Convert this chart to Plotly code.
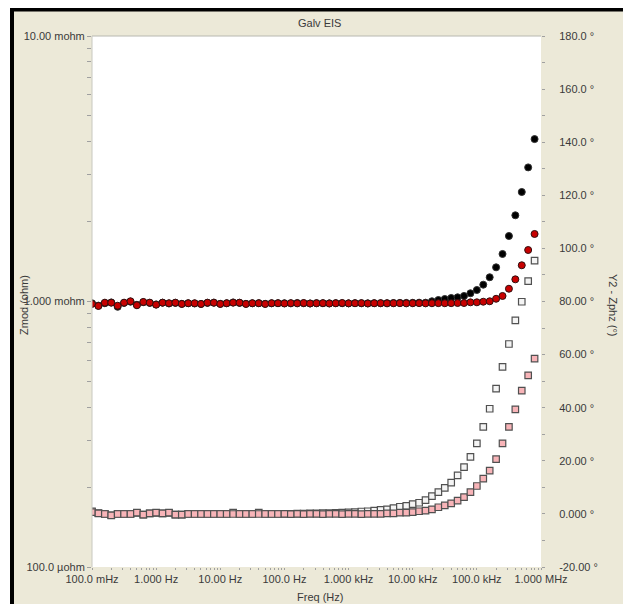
import plotly.graph_objects as go

# Frequencies (Hz), 10 points per decade
freq = [0.1, 0.1259, 0.1585, 0.1995, 0.2512, 0.3162, 0.3981, 0.5012, 0.6310, 0.7943,
        1.0, 1.259, 1.585, 1.995, 2.512, 3.162, 3.981, 5.012, 6.310, 7.943,
        10.0, 12.59, 15.85, 19.95, 25.12, 31.62, 39.81, 50.12, 63.10, 79.43,
        100.0, 125.9, 158.5, 199.5, 251.2, 316.2, 398.1, 501.2, 631.0, 794.3,
        1000.0, 1259.0, 1585.0, 1995.0, 2512.0, 3162.0, 3981.0, 5012.0, 6310.0, 7943.0,
        1.0e4, 1.259e4, 1.585e4, 1.995e4, 2.512e4, 3.162e4, 3.981e4, 5.012e4, 6.310e4, 7.943e4,
        1.0e5, 1.259e5, 1.585e5, 1.995e5, 2.512e5, 3.162e5, 3.981e5, 5.012e5, 6.310e5, 7.943e5]

# Zmod (mohm) - black series
zmod_black = [0.985, 0.965, 0.985, 0.992, 0.955, 0.988, 0.998, 0.972, 0.994, 0.988,
              0.975, 0.990, 0.983, 0.988, 0.980, 0.985, 0.983, 0.979, 0.988, 0.990,
              0.980, 0.985, 0.992, 0.988, 0.980, 0.985, 0.986, 0.980, 0.985, 0.986,
              0.985, 0.984, 0.987, 0.985, 0.983, 0.986, 0.985, 0.984, 0.986, 0.985,
              0.984, 0.986, 0.985, 0.984, 0.986, 0.985, 0.986, 0.987, 0.988, 0.988,
              0.989, 0.990, 0.990, 1.002, 1.013, 1.022, 1.031, 1.037, 1.049, 1.074,
              1.105, 1.157, 1.234, 1.345, 1.510, 1.765, 2.112, 2.585, 3.200, 4.090]

# Zmod (mohm) - red series
zmod_red = [0.979, 0.962, 0.990, 0.990, 0.964, 0.990, 1.002, 0.968, 0.996, 0.990,
            0.973, 0.990, 0.985, 0.990, 0.979, 0.985, 0.985, 0.979, 0.990, 0.990,
            0.979, 0.985, 0.990, 0.990, 0.979, 0.985, 0.985, 0.979, 0.985, 0.985,
            0.983, 0.986, 0.984, 0.987, 0.983, 0.985, 0.986, 0.983, 0.985, 0.987,
            0.984, 0.985, 0.986, 0.983, 0.985, 0.986, 0.984, 0.985, 0.986, 0.984,
            0.985, 0.986, 0.984, 0.985, 0.986, 0.985, 0.986, 0.987, 0.987, 0.993,
            0.993, 0.998, 1.002, 1.024, 1.049, 1.117, 1.212, 1.369, 1.563, 1.796]

# Phase (deg) - open gray squares
phase_black = [1.0, 0.3, 0.0, -0.5, 0.0, 0.0, 0.0, 0.4, -0.3, 0.2,
               0.4, 0.2, 0.4, -0.3, -0.3, 0.0, 0.0, 0.0, 0.0, 0.0,
               0.0, 0.0, 0.45, 0.0, 0.0, 0.0, 0.45, 0.0, 0.0, 0.0,
               0.0, 0.0, 0.1, 0.1, 0.2, 0.2, 0.3, 0.3, 0.4, 0.5,
               0.6, 0.7, 0.9, 1.0, 1.2, 1.5, 1.7, 2.2, 2.7, 3.0,
               3.7, 4.2, 5.2, 6.7, 8.2, 9.8, 11.8, 14.5, 17.6, 21.5,
               26.6, 32.8, 39.6, 47.2, 55.4, 64.0, 72.9, 79.9, 87.7, 95.4]

# Phase (deg) - pink squares
phase_pink = [0.7, 0.23, -0.04, -0.53, -0.04, -0.04, -0.04, 0.45, -0.3, 0.23,
              0.45, 0.23, 0.45, -0.3, -0.3, -0.04, -0.04, -0.04, -0.04, -0.04,
              -0.04, -0.04, -0.04, -0.04, -0.04, -0.04, -0.04, -0.04, -0.04, -0.04,
              0.0, -0.1, 0.0, -0.1, 0.0, 0.0, -0.1, 0.0, 0.0, -0.1,
              0.0, 0.0, -0.1, 0.0, 0.0, 0.0, 0.2, 0.2, 0.45, 0.45,
              0.7, 1.0, 1.2, 1.7, 2.5, 3.2, 4.0, 5.0, 6.3, 8.2,
              10.5, 13.3, 16.3, 20.6, 26.6, 32.8, 39.4, 46.4, 52.2, 58.5]

x_major = [0.1, 1, 10, 100, 1e3, 1e4, 1e5, 1e6]
x_major_text = ["100.0 mHz", "1.000 Hz", "10.00 Hz", "100.0 Hz",
                "1.000 kHz", "10.00 kHz", "100.0 kHz", "1.000 MHz"]
y1_major = [0.1, 1, 10]
y1_major_text = ["100.0 µohm", "1.000 mohm", "10.00 mohm"]
y2_vals = [-20, -10, 0, 10, 20, 30, 40, 50, 60, 70, 80, 90, 100, 110, 120, 130, 140, 150, 160, 170, 180]
y2_text = ["-20.00 °", "", "0.000 °", "", "20.00 °", "", "40.00 °", "", "60.00 °", "",
           "80.00 °", "", "100.0 °", "", "120.0 °", "", "140.0 °", "", "160.0 °", "", "180.0 °"]

# build log tick lists (majors + minors 2..9)
def log_ticks(majors, texts):
    vals, txt = [], []
    for k, m in enumerate(majors):
        vals.append(m)
        txt.append(texts[k])
        if k < len(majors) - 1:
            for j in range(2, 10):
                vals.append(m * j)
                txt.append("")
    return vals, txt

xv, xt = log_ticks(x_major, x_major_text)
y1v, y1t = log_ticks(y1_major, y1_major_text)

FONT = "Liberation Sans, Arial, sans-serif"
TXT = "#3a3a3a"
BEIGE = "#ECE9D8"

fig = go.Figure()
fig.add_trace(go.Scatter(x=freq, y=zmod_black, mode="markers", yaxis="y",
                         marker=dict(symbol="circle", size=7, color="#000000",
                                     line=dict(color="#303030", width=1)),
                         showlegend=False))
fig.add_trace(go.Scatter(x=freq, y=zmod_red, mode="markers", yaxis="y",
                         marker=dict(symbol="circle", size=7, color="#C80000",
                                     line=dict(color="#301010", width=1)),
                         showlegend=False))
fig.add_trace(go.Scatter(x=freq, y=phase_black, mode="markers", yaxis="y2",
                         marker=dict(symbol="square", size=6.5, color="#F4F4F4",
                                     line=dict(color="#505050", width=1.2)),
                         showlegend=False))
fig.add_trace(go.Scatter(x=freq, y=phase_pink, mode="markers", yaxis="y2",
                         marker=dict(symbol="square", size=6.5, color="#F8B4B8",
                                     line=dict(color="#505050", width=1.2)),
                         showlegend=False))

# paper coordinate helpers, in page pixels (plot area x 92..541, y 36..567)
def px(x):
    return (x - 92) / 449.0

def py(y):
    return (567 - y) / 531.0

# the page body has an 8 px margin, so the figure is 8 px smaller each way
fig.update_layout(
    width=623, height=596,
    margin=dict(l=84, r=90, t=28, b=37, autoexpand=False),
    paper_bgcolor="white",
    plot_bgcolor="white",
    font=dict(family=FONT, size=11, color=TXT),
    showlegend=False,
    xaxis=dict(type="log", range=[-1, 6], tickvals=xv, ticktext=xt,
               ticks="outside", ticklen=2, tickcolor="#A0A0A0", tickwidth=1,
               showgrid=False, zeroline=False, showline=False, automargin=False,
               tickfont=dict(family=FONT, size=11, color=TXT)),
    yaxis=dict(type="log", range=[-1, 1], tickvals=y1v, ticktext=y1t,
               ticks="outside", ticklen=4, tickcolor="#A0A0A0", tickwidth=1,
               showgrid=False, zeroline=False, showline=False, automargin=False,
               tickfont=dict(family=FONT, size=11, color=TXT)),
    yaxis2=dict(overlaying="y", side="right", range=[-20, 180],
                tickvals=y2_vals, ticktext=y2_text,
                ticks="outside", ticklen=3, tickcolor="#A0A0A0", tickwidth=1,
                ticklabelstandoff=12, automargin=False,
                showgrid=False, zeroline=False, showline=False,
                tickfont=dict(family=FONT, size=11, color=TXT)),
    shapes=[
        dict(type="rect", xref="paper", yref="paper",
             x0=px(12), x1=px(626), y0=py(620), y1=py(9.5),
             line=dict(color="black", width=4), fillcolor=BEIGE, layer="below"),
        dict(type="rect", xref="paper", yref="paper",
             x0=0, x1=1, y0=0, y1=1,
             line=dict(width=0), fillcolor="white", layer="below"),
        dict(type="line", xref="paper", yref="paper",
             x0=0, x1=1, y0=1, y1=1, line=dict(color="#B8B8B0", width=1)),
        dict(type="line", xref="paper", yref="paper",
             x0=0, x1=0, y0=0, y1=1, line=dict(color="#C8C8C0", width=1)),
    ],
    annotations=[
        dict(text="Galv EIS", xref="paper", yref="paper", x=px(319), y=py(23),
             showarrow=False, xanchor="center", yanchor="middle",
             font=dict(family=FONT, size=11, color=TXT)),
        dict(text="Freq (Hz)", xref="paper", yref="paper", x=px(320), y=py(597),
             showarrow=False, xanchor="center", yanchor="middle",
             font=dict(family=FONT, size=11, color=TXT)),
        dict(text="Zmod (ohm)", xref="paper", yref="paper", x=px(24), y=py(305),
             showarrow=False, xanchor="center", yanchor="middle", textangle=-90,
             font=dict(family=FONT, size=11, color=TXT)),
        dict(text="Y2 - Zphz (°)", xref="paper", yref="paper", x=px(613), y=py(305),
             showarrow=False, xanchor="center", yanchor="middle", textangle=90,
             font=dict(family=FONT, size=11, color=TXT)),
    ],
)

fig.write_html("out.html")
